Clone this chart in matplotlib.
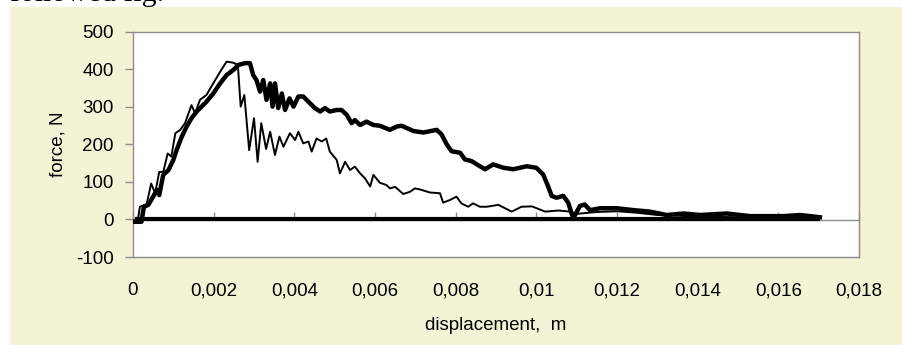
import matplotlib
matplotlib.use("Agg")
import matplotlib.pyplot as plt
from matplotlib.patches import Rectangle

# ---- data ----
thin_x = [0.00005, 0.00012, 0.00017, 0.00034, 0.00045, 0.00055, 0.00065, 0.00075, 0.00086, 0.00095,
          0.00105, 0.00117, 0.00129, 0.00145, 0.00154, 0.00166, 0.00182, 0.00199, 0.00216, 0.00232,
          0.00249, 0.00260, 0.00267, 0.00276, 0.00288, 0.00300, 0.00309, 0.00318, 0.00330, 0.00340,
          0.00352, 0.00363, 0.00373, 0.00389, 0.00402, 0.00410, 0.00422, 0.00435, 0.00443, 0.00455,
          0.00468, 0.00479, 0.00488, 0.00505, 0.00513, 0.00526, 0.00538, 0.00550, 0.00563, 0.00575,
          0.00588, 0.00596, 0.00612, 0.00628, 0.00637, 0.00650, 0.00670, 0.00687, 0.00699, 0.00712,
          0.00736, 0.00761, 0.00769, 0.00786, 0.00802, 0.00814, 0.00831, 0.00843, 0.00860, 0.00877,
          0.00906, 0.00939, 0.00963, 0.00989, 0.01022, 0.01055, 0.01084, 0.01100, 0.01150, 0.01200,
          0.01250, 0.01300, 0.01350, 0.01400, 0.01500, 0.01600, 0.01700]
thin_y = [-1, -3, 34, 41, 96, 70, 127, 127, 176, 168,
          230, 239, 257, 305, 283, 319, 332, 363, 394, 421,
          418, 412, 301, 332, 185, 270, 154, 257, 188, 234,
          172, 221, 194, 230, 212, 234, 203, 208, 181, 216,
          208, 216, 181, 159, 123, 154, 132, 141, 123, 110,
          88, 119, 98, 92, 83, 87, 68, 74, 83, 80,
          72, 70, 45, 52, 61, 43, 34, 43, 34, 34,
          39, 21, 34, 35, 21, 24, 21, 15, 20, 22,
          18, 12, 10, 8, 6, 5, 4]

thick_x = [0.00005, 0.00021, 0.00027, 0.00038, 0.00050, 0.00059, 0.00065, 0.00075, 0.00088, 0.00100,
           0.00108, 0.00121, 0.00133, 0.00145, 0.00158, 0.00170, 0.00182, 0.00199, 0.00216, 0.00232,
           0.00249, 0.00261, 0.00278, 0.00290, 0.00298, 0.00306, 0.00315, 0.00323, 0.00331, 0.00340,
           0.00346, 0.00352, 0.00360, 0.00369, 0.00377, 0.00388, 0.00398, 0.00410, 0.00422, 0.00435,
           0.00451, 0.00464, 0.00476, 0.00488, 0.00505, 0.00517, 0.00530, 0.00542, 0.00550, 0.00563,
           0.00579, 0.00596, 0.00612, 0.00637, 0.00654, 0.00666, 0.00695, 0.00720, 0.00753, 0.00765,
           0.00778, 0.00790, 0.00811, 0.00823, 0.00839, 0.00860, 0.00873, 0.00893, 0.00918, 0.00943,
           0.00976, 0.01000, 0.01017, 0.01029, 0.01038, 0.01050, 0.01067, 0.01079, 0.01088, 0.01092,
           0.01108, 0.01120, 0.01133, 0.01158, 0.01200, 0.01241, 0.01282, 0.01323, 0.01365, 0.01406,
           0.01472, 0.01530, 0.01612, 0.01654, 0.01695, 0.01703]
thick_y = [-6, -6, 34, 39, 61, 79, 65, 119, 132, 159,
           185, 221, 248, 270, 288, 301, 314, 336, 363, 385,
           399, 412, 417, 417, 385, 372, 341, 372, 319, 363,
           301, 363, 297, 336, 292, 323, 301, 328, 328, 314,
           297, 288, 297, 288, 292, 292, 279, 257, 265, 252,
           261, 252, 250, 239, 248, 250, 236, 232, 239, 227,
           200, 182, 178, 160, 156, 142, 134, 147, 138, 134,
           142, 138, 120, 89, 63, 58, 63, 45, 14, 4,
           36, 40, 25, 30, 30, 25, 21, 12, 16, 12,
           16, 9, 9, 12, 7, 6]

base_x = [0.00005, 0.01703]
base_y = [0, 0]

x_ticks = [0, 0.002, 0.004, 0.006, 0.008, 0.01, 0.012, 0.014, 0.016, 0.018]
x_tick_labels = ["0", "0,002", "0,004", "0,006", "0,008", "0,01", "0,012", "0,014", "0,016", "0,018"]
y_ticks = [-100, 0, 100, 200, 300, 400, 500]
y_tick_labels = ["-100", "0", "100", "200", "300", "400", "500"]

# ---- figure ----
W, H = 903, 345
fig = plt.figure(figsize=(W / 100, H / 100), dpi=100)
fig.patch.set_facecolor("white")

beige = "#F5F3D6"
bg = Rectangle((10 / W, 0), 1 - 10 / W, 1 - 7 / H, transform=fig.transFigure,
               facecolor=beige, edgecolor="none", zorder=-10)
fig.add_artist(bg)

# partial document text cut at the top edge (as in the reference crop)
fig.text(10 / W, 1 - 1 / H, "followed fig.", family="Liberation Serif", fontsize=21.5,
         ha="left", va="baseline", color="black")

font = "Liberation Sans"
fs = 13.5
grey = "#8C8C8C"

ax = fig.add_axes([133 / W, 1 - 257 / H, (859 - 133) / W, (257 - 32) / H])
ax.set_zorder(1)
ax.set_facecolor("white")
for s in ax.spines.values():
    s.set_color(grey)
    s.set_linewidth(1.0)

ax.plot(base_x, base_y, color="black", lw=3.0, solid_capstyle="butt", zorder=3)
ax.plot(thin_x, thin_y, color="black", lw=1.4, zorder=4)
ax.plot(thick_x, thick_y, color="black", lw=3.2, solid_joinstyle="round", zorder=5)

ax.set_xlim(0, 0.018)
ax.set_ylim(-100, 500)

ax.set_yticks(y_ticks)
ax.set_yticklabels(y_tick_labels, fontsize=fs, family=font)
ax.tick_params(axis="y", direction="out", length=6, width=1, color=grey, pad=8)

ax.set_xticks(x_ticks)
ax.set_xticklabels(x_tick_labels, fontsize=fs, family=font)
ax.tick_params(axis="x", length=0, pad=18)

# zero axis with inward ticks
sec = ax.secondary_xaxis(1 / 6)
sec.set_xticks(x_ticks)
sec.set_xticklabels([])
sec.tick_params(axis="x", direction="in", length=6, width=1, color=grey)
sec.spines["bottom"].set_color(grey)
sec.spines["bottom"].set_linewidth(1.0)

ax.set_ylabel("force, N", fontsize=fs, family=font, labelpad=7)
ax.set_xlabel("displacement,  m", fontsize=fs, family=font, labelpad=13)

fig.savefig("out.png", dpi=100, facecolor=fig.get_facecolor())
